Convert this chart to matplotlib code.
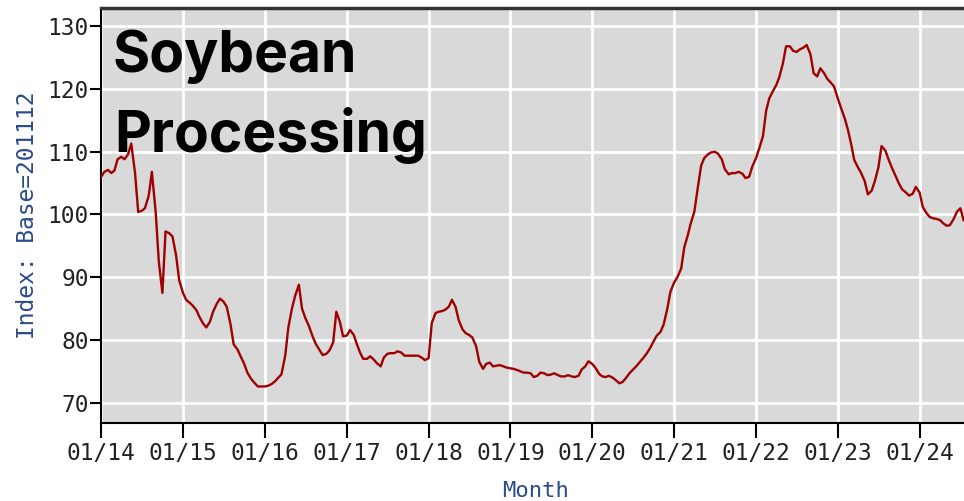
import numpy as np
import pandas as pd
import matplotlib
matplotlib.use("Agg")
import matplotlib.pyplot as plt
import matplotlib.dates as mdates

# semi-monthly index values (1st and 15th of each month)
vals_2014 = [106.0, 106.8, 107.1, 106.6, 107.0, 108.8, 109.2, 108.8, 109.6, 111.3, 106.6, 100.4,
             100.6, 101.0, 103.0, 106.8, 100.4, 92.5, 87.5, 97.3, 97.0, 96.5, 93.5, 89.5]
vals_2015 = [87.5, 86.4, 85.9, 85.4, 84.8, 83.7, 82.6, 82.0, 82.9, 84.5, 85.8, 86.6,
             86.1, 85.3, 82.5, 79.3, 78.5, 77.4, 76.2, 74.8, 73.8, 73.2, 72.6, 72.6]
vals_2016 = [72.6, 72.7, 73.0, 73.4, 74.0, 74.5, 77.5, 82.0, 85.0, 87.0, 88.8, 85.0,
             83.4, 82.3, 80.6, 79.4, 78.4, 77.6, 77.8, 78.3, 79.6, 84.5, 82.9, 80.6]
vals_2017 = [80.7, 81.6, 80.8, 79.3, 78.0, 77.0, 77.0, 77.4, 76.9, 76.3, 75.8, 77.2,
             77.8, 77.9, 77.9, 78.2, 78.0, 77.5, 77.5, 77.5, 77.5, 77.5, 77.2, 76.8]
vals_2018 = [77.1, 82.7, 84.3, 84.5, 84.6, 84.8, 85.3, 86.4, 85.3, 83.2, 81.7, 81.1,
             80.8, 80.4, 79.0, 76.5, 75.4, 76.2, 76.4, 75.8, 75.9, 76.0, 75.8, 75.6]
vals_2019 = [75.5, 75.4, 75.2, 75.0, 74.8, 74.8, 74.7, 74.1, 74.3, 74.8, 74.7, 74.4,
             74.5, 74.7, 74.4, 74.2, 74.2, 74.4, 74.2, 74.1, 74.3, 75.3, 75.8, 76.6]
vals_2020 = [76.2, 75.6, 74.6, 74.2, 74.1, 74.3, 74.0, 73.6, 73.1, 73.3, 74.0, 74.7,
             75.3, 75.8, 76.5, 77.1, 77.9, 78.7, 79.8, 80.7, 81.3, 82.5, 85.0, 87.7]
vals_2021 = [89.2, 90.0, 91.4, 94.8, 96.5, 98.5, 100.5, 104.0, 107.8, 109.0, 109.6, 109.9,
             110.0, 109.7, 108.8, 107.2, 106.4, 106.6, 106.6, 106.8, 106.5, 105.8, 106.0, 107.6]
vals_2022 = [109.0, 110.5, 112.5, 116.5, 118.5, 119.5, 120.6, 121.9, 124.1, 126.8, 126.8, 126.1,
             125.9, 126.3, 126.6, 127.0, 125.5, 122.5, 122.0, 123.3, 122.5, 121.6, 121.0, 120.4]
vals_2023 = [118.5, 117.0, 115.3, 113.5, 111.3, 108.7, 107.5, 106.6, 105.3, 103.2, 103.8, 105.3,
             107.5, 110.9, 110.2, 108.8, 107.3, 106.2, 104.9, 104.0, 103.5, 103.0, 103.3, 104.4]
vals_2024 = [103.5, 101.2, 100.2, 99.6, 99.4, 99.3, 99.1, 98.6, 98.2, 98.3, 99.3, 100.4,
             101.0, 99.1]

values = (vals_2014 + vals_2015 + vals_2016 + vals_2017 + vals_2018 + vals_2019
          + vals_2020 + vals_2021 + vals_2022 + vals_2023 + vals_2024)
dates = pd.date_range("2014-01-01", periods=len(values), freq="SMS")

y_ticks = [70, 80, 90, 100, 110, 120, 130]
title_lines = ["Soybean", "Processing"]

label_blue = "#2b4a8b"
mono = "DejaVu Sans Mono"

fig = plt.figure(figsize=(9.64, 5.01), dpi=100, facecolor="white")
ax = fig.add_axes([0.105, 0.156, 0.895, 0.828])
ax.set_facecolor("#d9d9d9")

ax.plot(dates, values, color="#a00000", lw=1.7, zorder=3)

ax.set_xlim(pd.Timestamp("2014-01-01"), pd.Timestamp("2024-07-17"))
ax.set_ylim(66.8, 132.9)
ax.set_yticks(y_ticks)
ax.xaxis.set_major_locator(mdates.YearLocator())
ax.xaxis.set_major_formatter(mdates.DateFormatter("%m/%y"))

ax.grid(True, color="white", lw=2)
ax.set_axisbelow(True)

for lab in ax.get_xticklabels() + ax.get_yticklabels():
    lab.set_fontfamily(mono)
    lab.set_fontsize(16.5)
    lab.set_color("#222222")
ax.tick_params(axis="x", length=11, width=1.5, pad=3)
ax.tick_params(axis="y", length=8, width=1.5, pad=1)

ax.spines["right"].set_visible(False)
ax.spines["top"].set_color("#333333")
ax.spines["top"].set_linewidth(2.5)
ax.spines["left"].set_linewidth(1.5)
ax.spines["bottom"].set_linewidth(1.5)

ax.set_ylabel("Index: Base=201112", family=mono, fontsize=16.5, color=label_blue, labelpad=6)
ax.set_xlabel("Month", family=mono, fontsize=16, color=label_blue)
ax.xaxis.set_label_coords(0.503, -0.14)

ax.text(0.013, 0.948, title_lines[0], transform=ax.transAxes, fontsize=41, fontweight="bold",
        family="Inter", va="top", ha="left", color="black", zorder=5)
ax.text(0.015, 0.762, title_lines[1], transform=ax.transAxes, fontsize=41, fontweight="bold",
        family="Inter", va="top", ha="left", color="black", zorder=5)

fig.savefig("out.png", dpi=100)
